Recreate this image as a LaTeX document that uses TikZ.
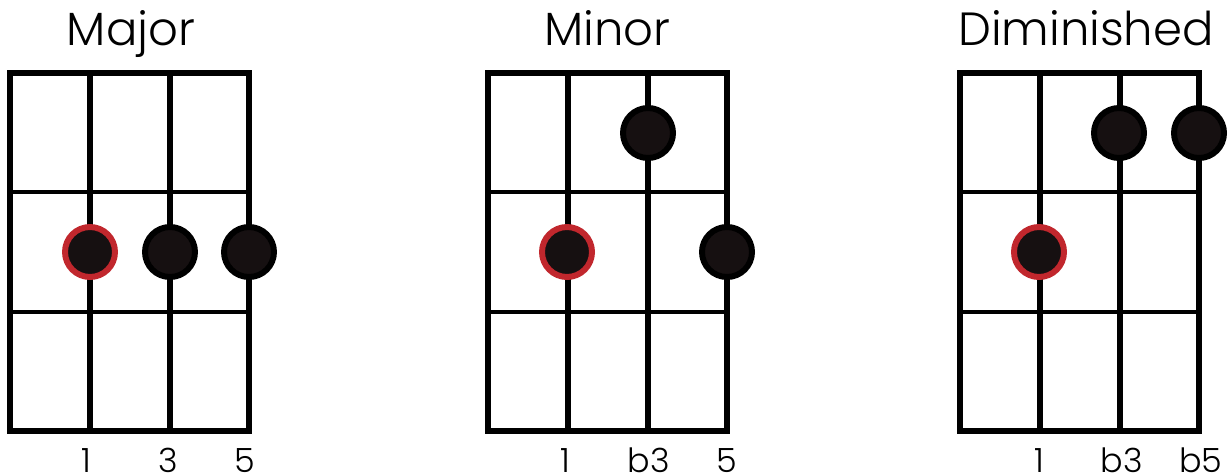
\documentclass[tikz,border=0pt]{standalone}
\usepackage{fontspec}
\setmainfont{Poppins Light}
\usepackage{xcolor}
\usetikzlibrary{positioning}
\definecolor{rootred}{HTML}{C1272D}
\definecolor{dotfill}{HTML}{161011}
\definecolor{gridblack}{HTML}{000000}

\begin{document}
\begin{tikzpicture}[x=0.02cm,y=-0.02cm,
  frame/.style={draw=gridblack,line width=3.5pt},
  stringline/.style={draw=gridblack,line width=3.3pt},
  fretline/.style={draw=gridblack,line width=2pt},
  fingerdot/.style={circle,draw=gridblack,fill=dotfill,line width=3.4pt,
                    minimum size=1.0cm,inner sep=0pt},
  rootdot/.style={fingerdot,draw=rootred},
  chordtitle/.style={anchor=base,inner sep=0pt,font=\fontsize{26.5}{30}\selectfont},
  degree/.style={anchor=base,inner sep=0pt,font=\fontsize{19}{21}\selectfont}]

\useasboundingbox (0,0) rectangle (1231,474);

% the three empty grids
\foreach \gx/\gname/\gtitle/\tx in {10/major/Major/121,488/minor/Minor/119.5,960/dim/Diminished/126}{
  \begin{scope}[shift={(\gx,0)}]
    \draw[fretline] (0,192) -- (239,192) (0,312) -- (239,312);
    \draw[stringline] (80,73) -- (80,431) (160,73) -- (160,431);
    \draw[frame] (0,73) rectangle (239,431);
    \node[chordtitle] (\gname-title) at (\tx,45) {\gtitle};
  \end{scope}
}

% major
\node[rootdot]   (major-1) at (90,252) {};
\node[fingerdot] (major-3) at (170,252) {};
\node[fingerdot] (major-5) at (249,252) {};
\node[degree] (major-l1) at (86,472) {1};
\node[degree] (major-l3) at (168,472) {3};
\node[degree] (major-l5) at (245,472) {5};

% minor
\node[rootdot]   (minor-1) at (567,252) {};
\node[fingerdot] (minor-b3) at (648,133) {};
\node[fingerdot] (minor-5) at (727,252) {};
\node[degree] (minor-l1) at (565,472) {1};
\node[degree] (minor-lb3) at (649,472) {b3};
\node[degree] (minor-l5) at (727,472) {5};

% diminished
\node[rootdot]   (dim-1) at (1039,252) {};
\node[fingerdot] (dim-b3) at (1119,133) {};
\node[fingerdot] (dim-b5) at (1199,133) {};
\node[degree] (dim-l1) at (1039,472) {1};
\node[degree] (dim-lb3) at (1122,472) {b3};
\node[degree] (dim-lb5) at (1201,472) {b5};

\end{tikzpicture}
\end{document}
